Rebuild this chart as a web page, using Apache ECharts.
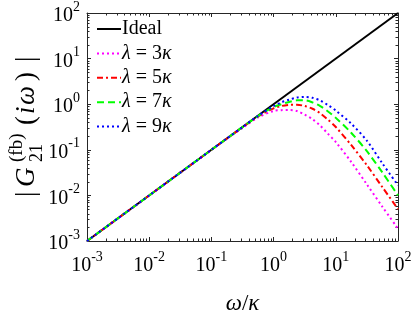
<!DOCTYPE html>
<html><head><meta charset="utf-8">
<script src="https://cdn.jsdelivr.net/npm/echarts@6/dist/echarts.min.js"></script>
<style>html,body{margin:0;padding:0;background:#fff}#c{width:415px;height:320px}</style>
</head><body><div id="c"></div>
<script>
// ---- data ----
const omega   = [0.001, 0.01, 0.1, 0.1778, 0.3162, 0.5623, 1, 1.334, 1.778, 2.371, 3.162, 4.217, 5.623, 7.499, 10, 17.78, 31.62, 56.23, 100];
const lam3    = [0.001, 0.01, 0.0995, 0.176, 0.302, 0.513, 0.708, 0.741, 0.746, 0.708, 0.589, 0.468, 0.339, 0.224, 0.148, 0.0537, 0.0174, 0.00562, 0.00186];
const lam5    = [0.001, 0.01, 0.1, 0.177, 0.313, 0.537, 0.813, 0.912, 0.966, 0.977, 0.912, 0.794, 0.631, 0.457, 0.316, 0.126, 0.0457, 0.0151, 0.00501];
const lam7    = [0.001, 0.01, 0.1, 0.1775, 0.314, 0.550, 0.871, 1.0, 1.122, 1.216, 1.216, 1.096, 0.912, 0.692, 0.501, 0.234, 0.0933, 0.0316, 0.0100];
const lam9    = [0.001, 0.01, 0.1, 0.1776, 0.315, 0.556, 0.912, 1.096, 1.259, 1.396, 1.445, 1.380, 1.202, 0.955, 0.724, 0.372, 0.158, 0.0501, 0.0166];
const idealX  = [0.001, 100];
const idealY  = [0.001, 100];
const seriesNames = ['Ideal', 'λ = 3κ', 'λ = 5κ', 'λ = 7κ', 'λ = 9κ'];
const minorMultipliers = [2, 3, 4, 5, 6, 7, 8, 9];
const minorDecades = [0.001, 0.01, 0.1, 1, 10];

const AX = 0.001, AXMAX = 100;
const FONT = 'Liberation Serif';
const axisColor = '#262626';

const minorVals = [];
minorDecades.forEach(d => minorMultipliers.forEach(m => minorVals.push(+(m * d).toPrecision(3))));

const zip = (xs, ys) => xs.map((x, i) => [x, ys[i]]);

function tickFmt(v) {
  const e = Math.round(Math.log10(v));
  return '{b|10}{s|' + e + '}';
}
const tickRich = {
  b: {fontFamily: FONT, fontSize: 20, color: '#000', lineHeight: 26, verticalAlign: 'bottom'},
  s: {fontFamily: FONT, fontSize: 14, color: '#000', lineHeight: 14, verticalAlign: 'top'}
};

const chart = echarts.init(document.getElementById('c'), null, {renderer: 'canvas'});

const baseAxis = {
  type: 'log', logBase: 10, min: AX, max: AXMAX, interval: 1,
  axisLine: {show: true, onZero: false, lineStyle: {color: axisColor, width: 1}},
  axisTick: {show: true, inside: true, length: 4, lineStyle: {color: axisColor, width: 1}},
  splitLine: {show: false}, minorTick: {show: false}
};

const T = (text, x, y, size, italic) => ({
  type: 'text', x: x, y: y,
  style: {text: text, fontFamily: FONT, fontSize: size, fontStyle: italic ? 'italic' : 'normal',
          fill: '#000', verticalAlign: 'middle', align: 'left'}
});

const option = {
  animation: false,
  backgroundColor: '#fff',
  grid: {left: 87, right: 17, top: 13, bottom: 68, containLabel: false},
  legend: {
    orient: 'vertical', left: 96, top: 19, padding: 0,
    itemWidth: 24, itemHeight: 14, itemGap: 4.4,
    data: seriesNames,
    itemStyle: {opacity: 0},
    formatter: name => name === 'Ideal' ? '{n|Ideal}' : '{i|λ}{n| = ' + name.replace(/[^0-9]/g, '') + '}{i|κ}',
    textStyle: {
      fontFamily: FONT, fontSize: 20, color: '#000', padding: [0, 0, 0, -4],
      rich: {
        n: {fontFamily: FONT, fontSize: 20, color: '#000', lineHeight: 20},
        i: {fontFamily: FONT, fontSize: 20, fontStyle: 'italic', color: '#000', lineHeight: 20}
      }
    }
  },
  xAxis: [
    Object.assign({}, baseAxis, {
      position: 'bottom',
      axisLabel: {show: true, margin: 9, formatter: tickFmt, rich: tickRich},
      name: '{i|ω}{n|/}{i|κ}', nameLocation: 'middle', nameGap: 51,
      nameTextStyle: {rich: {
        i: {fontFamily: FONT, fontSize: 23, fontStyle: 'italic', color: '#000'},
        n: {fontFamily: FONT, fontSize: 23, color: '#000'}
      }}
    }),
    Object.assign({}, baseAxis, {position: 'top', axisLabel: {show: false}})
  ],
  yAxis: [
    Object.assign({}, baseAxis, {
      position: 'left',
      axisLabel: {show: true, margin: 7, formatter: tickFmt, rich: tickRich}
    }),
    Object.assign({}, baseAxis, {position: 'right', axisLabel: {show: false}})
  ],
  graphic: [{
    type: 'group', x: 27, y: 197, rotation: Math.PI / 2, silent: true,
    children: [
      T('|', 0, 0, 27, false),
      T('G', 10, 0, 27, true),
      T('(fb)', 35, -10, 19, false),
      T('21', 35, 10, 18, false),
      T('(', 72, 0, 27, false),
      T('i', 83, 0, 27, true),
      T('ω', 92, 0, 27, true),
      T(')', 116, 0, 27, false),
      T('|', 135, 0, 27, false)
    ]
  }],
  series: [
    {name: seriesNames[0], type: 'line', data: zip(idealX, idealY), symbol: 'none', z: 2,
     lineStyle: {color: '#000', width: 2, type: 'solid'}, itemStyle: {color: '#000'}},
    {name: seriesNames[1], type: 'line', data: zip(omega, lam3), symbol: 'none', smooth: 0.3, z: 3,
     lineStyle: {color: '#ff00ff', width: 2, type: [2, 3]}, itemStyle: {color: '#ff00ff'}},
    {name: seriesNames[2], type: 'line', data: zip(omega, lam5), symbol: 'none', smooth: 0.3, z: 3,
     lineStyle: {color: '#ff0000', width: 2, type: [6, 3, 2, 3]}, itemStyle: {color: '#ff0000'}},
    {name: seriesNames[3], type: 'line', data: zip(omega, lam7), symbol: 'none', smooth: 0.3, z: 3,
     lineStyle: {color: '#00ff00', width: 2, type: [7, 4]}, itemStyle: {color: '#00ff00'}},
    {name: seriesNames[4], type: 'line', data: zip(omega, lam9), symbol: 'none', smooth: 0.3, z: 3,
     lineStyle: {color: '#0000ff', width: 2, type: [2, 3]}, itemStyle: {color: '#0000ff'}},
    {
      type: 'custom', silent: true, z: 1, xAxisIndex: 0, yAxisIndex: 0,
      data: minorVals.map(v => [v, v]), encode: {x: 0, y: 1},
      renderItem: (params, api) => {
        const v = api.value(0), L = 2.5;
        const b = api.coord([v, AX]), t = api.coord([v, AXMAX]);
        const l = api.coord([AX, v]), r = api.coord([AXMAX, v]);
        const st = {stroke: axisColor, lineWidth: 1};
        const rx = x => Math.round(x) + 0.5;
        return {type: 'group', children: [
          {type: 'line', shape: {x1: rx(b[0]), y1: b[1], x2: rx(b[0]), y2: b[1] - L}, style: st},
          {type: 'line', shape: {x1: rx(t[0]), y1: t[1], x2: rx(t[0]), y2: t[1] + L}, style: st},
          {type: 'line', shape: {x1: l[0], y1: rx(l[1]), x2: l[0] + L, y2: rx(l[1])}, style: st},
          {type: 'line', shape: {x1: r[0], y1: rx(r[1]), x2: r[0] - L, y2: rx(r[1])}, style: st}
        ]};
      }
    }
  ]
};
chart.setOption(option);
</script></body></html>
